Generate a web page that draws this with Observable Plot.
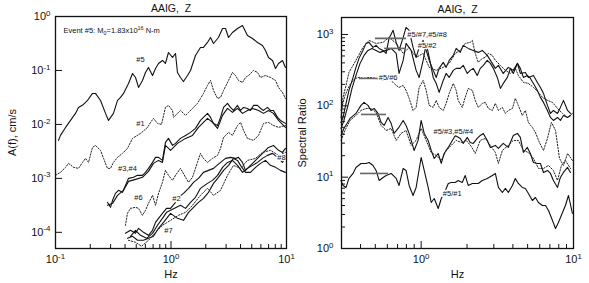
<!DOCTYPE html>
<html><head><meta charset="utf-8">
<script src="https://cdn.jsdelivr.net/npm/d3@7"></script>
<script src="https://cdn.jsdelivr.net/npm/@observablehq/plot@0.6"></script>
<style>
body{margin:0;background:#fff;}
#wrap{position:relative;width:589px;height:283px;background:#fff;}
#left{position:absolute;left:0;top:0;}
#right{position:absolute;left:295px;top:0;}
</style></head><body><div id="wrap"><div id="left"></div><div id="right"></div></div>
<script>
// ---------- LEFT PANEL: log10(Hz), log10(A cm/s) ----------
const L5 = [[-0.974,-2.296],[-0.957,-2.204],[-0.913,-2.056],[-0.870,-1.926],[-0.827,-1.796],[-0.801,-1.685],[-0.758,-1.630],[-0.723,-1.556],[-0.680,-1.426],[-0.654,-1.426],[-0.610,-1.556],[-0.567,-1.796],[-0.541,-1.926],[-0.498,-1.796],[-0.463,-1.556],[-0.437,-1.500],[-0.411,-1.426],[-0.368,-1.241],[-0.333,-1.056],[-0.307,-1.130],[-0.281,-1.315],[-0.247,-1.185],[-0.221,-1.037],[-0.195,-0.944],[-0.160,-1.093],[-0.134,-0.963],[-0.108,-0.870],[-0.074,-0.815],[-0.048,-0.870],[-0.022,-0.667],[0.013,-0.759],[0.039,-0.685],[0.056,-1.037],[0.082,-1.130],[0.108,-1.204],[0.143,-1.093],[0.169,-1.000],[0.212,-0.722],[0.255,-0.574],[0.281,-0.574],[0.316,-0.481],[0.342,-0.389],[0.368,-0.500],[0.411,-0.389],[0.446,-0.222],[0.472,-0.222],[0.498,-0.389],[0.532,-0.296],[0.576,-0.222],[0.619,-0.167],[0.662,-0.352],[0.706,-0.407],[0.749,-0.481],[0.792,-0.537],[0.818,-0.630],[0.844,-0.759],[0.879,-0.815],[0.905,-0.963],[0.931,-0.870],[0.965,-0.815],[0.991,-0.944]];
const L1 = [[-1.000,-2.944],[-0.957,-2.889],[-0.913,-2.796],[-0.887,-2.722],[-0.844,-2.796],[-0.801,-2.815],[-0.766,-2.704],[-0.740,-2.630],[-0.714,-2.704],[-0.680,-2.426],[-0.654,-2.389],[-0.610,-2.481],[-0.584,-2.630],[-0.550,-2.815],[-0.524,-2.815],[-0.498,-2.704],[-0.463,-2.611],[-0.420,-2.537],[-0.377,-2.444],[-0.333,-2.259],[-0.264,-2.167],[-0.203,-2.056],[-0.177,-1.963],[-0.152,-1.889],[-0.117,-1.981],[-0.082,-2.000],[-0.048,-1.685],[-0.022,-1.648],[0.013,-1.741],[0.022,-1.870],[0.056,-1.796],[0.082,-1.741],[0.126,-1.833],[0.152,-1.778],[0.186,-1.704],[0.229,-1.611],[0.255,-1.519],[0.281,-1.426],[0.316,-1.278],[0.342,-1.185],[0.368,-1.370],[0.403,-1.519],[0.429,-1.500],[0.455,-1.370],[0.498,-1.185],[0.532,-1.037],[0.558,-1.093],[0.584,-1.185],[0.619,-1.222],[0.645,-1.130],[0.671,-1.093],[0.714,-1.000],[0.749,-1.037],[0.775,-1.130],[0.818,-1.093],[0.861,-1.130],[0.905,-1.185],[0.931,-1.315],[0.965,-1.407],[0.991,-1.519]];
const L3 = [[-0.550,-3.444],[-0.524,-3.537],[-0.506,-3.407],[-0.481,-3.278],[-0.455,-3.222],[-0.420,-3.259],[-0.394,-3.130],[-0.368,-3.000],[-0.325,-2.981],[-0.290,-2.944],[-0.247,-2.944],[-0.221,-2.889],[-0.195,-2.815],[-0.160,-2.704],[-0.134,-2.611],[-0.108,-2.611],[-0.074,-2.667],[-0.048,-2.333],[-0.022,-2.259],[0.013,-2.389],[0.039,-2.352],[0.082,-2.259],[0.126,-2.204],[0.169,-2.148],[0.212,-2.074],[0.255,-1.926],[0.281,-1.870],[0.316,-1.796],[0.342,-1.870],[0.368,-1.981],[0.403,-2.019],[0.429,-1.870],[0.455,-1.685],[0.489,-1.611],[0.515,-1.685],[0.541,-1.741],[0.576,-1.648],[0.602,-1.741],[0.628,-1.685],[0.662,-1.704],[0.688,-1.741],[0.714,-1.648],[0.749,-1.648],[0.775,-1.704],[0.801,-1.741],[0.835,-1.685],[0.861,-1.741],[0.887,-1.741],[0.922,-1.870],[0.948,-1.926],[0.991,-1.981]];
const L4 = [[-0.550,-3.500],[-0.506,-3.463],[-0.463,-3.315],[-0.411,-3.222],[-0.368,-3.056],[-0.307,-3.019],[-0.247,-2.981],[-0.195,-2.870],[-0.152,-2.722],[-0.108,-2.667],[-0.074,-2.704],[-0.048,-2.389],[-0.004,-2.481],[0.056,-2.352],[0.126,-2.259],[0.186,-2.204],[0.238,-2.056],[0.281,-1.963],[0.316,-1.889],[0.359,-1.963],[0.403,-2.074],[0.446,-1.833],[0.489,-1.704],[0.532,-1.778],[0.576,-1.704],[0.619,-1.796],[0.662,-1.741],[0.706,-1.704],[0.758,-1.741],[0.801,-1.796],[0.844,-1.741],[0.887,-1.796],[0.931,-1.926],[0.991,-2.056]];
const L6 = [[-0.394,-3.870],[-0.377,-3.648],[-0.351,-3.556],[-0.307,-3.537],[-0.281,-3.556],[-0.247,-3.685],[-0.221,-3.593],[-0.195,-3.463],[-0.160,-3.315],[-0.134,-3.500],[-0.108,-3.278],[-0.074,-3.074],[-0.048,-2.852],[-0.022,-2.944],[0.013,-3.037],[0.039,-2.944],[0.082,-2.815],[0.126,-2.981],[0.152,-3.074],[0.186,-2.981],[0.229,-2.704],[0.255,-2.537],[0.281,-2.630],[0.316,-2.704],[0.359,-2.630],[0.403,-2.574],[0.429,-2.444],[0.455,-2.241],[0.498,-2.148],[0.532,-2.204],[0.576,-2.019],[0.602,-1.963],[0.628,-2.111],[0.662,-2.259],[0.714,-2.296],[0.758,-2.204],[0.801,-1.981],[0.844,-1.963],[0.887,-2.019],[0.931,-2.056],[0.991,-2.019]];
const L2 = [[-0.394,-4.019],[-0.351,-3.963],[-0.307,-4.019],[-0.281,-3.926],[-0.238,-4.000],[-0.195,-4.056],[-0.160,-3.963],[-0.134,-3.815],[-0.108,-3.741],[-0.074,-3.648],[-0.039,-3.556],[-0.004,-3.556],[0.039,-3.444],[0.065,-3.352],[0.108,-3.278],[0.152,-3.185],[0.195,-3.074],[0.238,-3.000],[0.281,-2.889],[0.325,-2.852],[0.368,-2.815],[0.429,-2.704],[0.472,-2.630],[0.515,-2.611],[0.558,-2.630],[0.584,-2.611],[0.619,-2.704],[0.645,-2.852],[0.688,-2.759],[0.732,-2.667],[0.775,-2.574],[0.818,-2.481],[0.844,-2.426],[0.887,-2.389],[0.931,-2.481],[0.965,-2.519],[0.991,-2.444]];
const L7 = [[-0.377,-4.111],[-0.333,-4.074],[-0.290,-4.148],[-0.238,-4.148],[-0.195,-4.111],[-0.152,-4.074],[-0.108,-3.926],[-0.065,-3.815],[-0.004,-3.648],[0.056,-3.741],[0.108,-3.778],[0.152,-3.630],[0.195,-3.537],[0.238,-3.444],[0.281,-3.370],[0.325,-3.259],[0.368,-3.093],[0.411,-2.981],[0.455,-2.852],[0.498,-2.759],[0.541,-2.630],[0.576,-2.667],[0.602,-2.759],[0.645,-2.889],[0.688,-2.889],[0.732,-2.796],[0.775,-2.722],[0.818,-2.667],[0.861,-2.759],[0.905,-2.796],[0.948,-2.852],[0.991,-2.889]];
const L8 = [[-0.351,-4.074],[-0.307,-3.963],[-0.264,-4.056],[-0.212,-4.111],[-0.160,-4.019],[-0.117,-3.870],[-0.074,-3.741],[-0.039,-3.630],[-0.004,-3.593],[0.082,-3.500],[0.126,-3.556],[0.169,-3.444],[0.212,-3.352],[0.255,-3.185],[0.316,-3.093],[0.359,-3.037],[0.403,-2.944],[0.446,-2.796],[0.489,-2.704],[0.532,-2.667],[0.576,-2.759],[0.619,-2.889],[0.662,-2.815],[0.706,-2.759],[0.749,-2.704],[0.792,-2.630],[0.835,-2.574],[0.879,-2.537],[0.922,-2.611],[0.965,-2.704],[0.991,-2.630]];
const Llow = [[-0.368,-4.148],[-0.307,-4.185],[-0.255,-4.259],[-0.195,-4.148],[-0.134,-4.000],[-0.074,-3.870],[-0.004,-3.778],[0.065,-3.685],[0.126,-3.630],[0.186,-3.500],[0.255,-3.315],[0.316,-3.185],[0.368,-3.315],[0.429,-3.222],[0.489,-2.944],[0.541,-2.759],[0.602,-2.815],[0.662,-2.667],[0.732,-2.630],[0.792,-2.519],[0.861,-2.481],[0.931,-2.574],[0.991,-2.519]];
const leftNames = ["#5","#1","#3","#4","#6","#2","#7","#8","#low"];
const leftSeriesPts = [L5, L1, L3, L4, L6, L2, L7, L8, Llow];
const leftDotted = ["#1","#6","#low"];
const leftLabelText = ["#5","#1","#3,#4","#6","#2","#7","#8"];
const leftLabelPos = [[-0.264,-0.796],[-0.264,-1.981],[-0.377,-2.815],[-0.281,-3.352],[0.048,-3.370],[-0.022,-3.963],[0.957,-2.611]];
const eventNote = "Event #5: M_{0}=1.83x10^{16} N-m";
const eventPos = [-0.931,-0.259];

// ---------- RIGHT PANEL: log10(Hz), log10(ratio) ----------
const R57 = [[-0.526,1.767],[-0.513,1.837],[-0.493,2.034],[-0.474,2.216],[-0.447,2.398],[-0.428,2.539],[-0.408,2.665],[-0.382,2.777],[-0.362,2.875],[-0.342,2.889],[-0.316,2.819],[-0.296,2.847],[-0.276,2.805],[-0.250,2.777],[-0.230,2.735],[-0.211,2.945],[-0.184,3.058],[-0.164,2.889],[-0.145,2.777],[-0.118,2.959],[-0.099,3.100],[-0.079,3.058],[-0.053,2.819],[-0.033,2.679],[-0.013,2.819],[0.013,2.917],[0.033,2.777],[0.053,2.637],[0.079,2.497],[0.099,2.398],[0.118,2.525],[0.145,2.609],[0.164,2.539],[0.184,2.637],[0.211,2.707],[0.230,2.805],[0.257,2.749],[0.276,2.847],[0.309,2.805],[0.342,2.777],[0.375,2.749],[0.401,2.777],[0.434,2.707],[0.467,2.595],[0.487,2.525],[0.507,2.567],[0.539,2.454],[0.572,2.539],[0.605,2.497],[0.632,2.595],[0.651,2.454],[0.684,2.468],[0.704,2.398],[0.737,2.426],[0.763,2.328],[0.783,2.258],[0.803,2.174],[0.829,2.006],[0.849,1.893],[0.868,1.935],[0.895,1.893],[0.914,1.978],[0.934,2.076],[0.961,1.935],[0.980,1.893]];
const R52 = [[-0.526,1.683],[-0.507,1.795],[-0.480,2.006],[-0.454,2.244],[-0.428,2.426],[-0.401,2.595],[-0.375,2.707],[-0.349,2.777],[-0.322,2.805],[-0.296,2.777],[-0.270,2.749],[-0.230,2.777],[-0.197,2.805],[-0.164,2.735],[-0.145,2.454],[-0.118,2.637],[-0.099,2.875],[-0.066,2.777],[-0.033,2.497],[-0.013,2.398],[0.013,2.637],[0.033,2.875],[0.053,2.679],[0.079,2.398],[0.099,2.314],[0.118,2.188],[0.145,2.356],[0.164,2.454],[0.184,2.398],[0.211,2.497],[0.230,2.525],[0.257,2.525],[0.276,2.567],[0.303,2.454],[0.322,2.497],[0.342,2.525],[0.368,2.426],[0.388,2.525],[0.408,2.567],[0.434,2.637],[0.454,2.595],[0.474,2.525],[0.500,2.398],[0.520,2.244],[0.539,2.314],[0.566,2.398],[0.586,2.525],[0.605,2.454],[0.632,2.595],[0.651,2.525],[0.671,2.398],[0.697,2.426],[0.717,2.384],[0.737,2.314],[0.763,2.216],[0.783,2.118],[0.803,2.048],[0.829,1.935],[0.849,1.837],[0.868,1.795],[0.895,1.837],[0.914,1.795],[0.934,1.865],[0.961,1.837],[0.980,1.865]];
const R58 = [[-0.526,1.837],[-0.513,2.118],[-0.493,2.286],[-0.474,2.468],[-0.428,2.637],[-0.382,2.819],[-0.342,2.917],[-0.296,2.875],[-0.250,2.889],[-0.211,2.959],[-0.164,2.875],[-0.118,2.735],[-0.079,2.819],[-0.033,2.679],[0.013,2.735],[0.053,2.539],[0.099,2.497],[0.145,2.539],[0.184,2.595],[0.224,2.735],[0.257,2.777],[0.289,2.875],[0.322,2.889],[0.336,2.917],[0.355,2.735],[0.375,2.609],[0.401,2.665],[0.421,2.679],[0.441,2.735],[0.467,2.707],[0.487,2.637],[0.520,2.567],[0.553,2.497],[0.586,2.454],[0.618,2.525],[0.638,2.426],[0.671,2.328],[0.704,2.314],[0.737,2.258],[0.770,2.188],[0.796,2.118],[0.829,2.076],[0.862,2.048],[0.895,1.963],[0.928,1.893],[0.961,1.837],[0.993,1.893]];
const R56 = [[-0.526,1.935],[-0.500,2.146],[-0.467,2.300],[-0.434,2.384],[-0.408,2.398],[-0.375,2.384],[-0.342,2.398],[-0.296,2.384],[-0.250,2.356],[-0.217,2.384],[-0.184,2.328],[-0.164,2.286],[-0.145,2.258],[-0.118,2.286],[-0.099,2.216],[-0.079,2.104],[-0.053,1.935],[-0.033,1.978],[-0.013,2.258],[0.013,2.356],[0.033,2.216],[0.053,2.006],[0.079,1.978],[0.099,2.076],[0.118,1.978],[0.145,1.935],[0.164,2.034],[0.184,2.174],[0.211,2.314],[0.230,2.216],[0.243,2.076],[0.270,1.978],[0.289,2.118],[0.309,2.244],[0.336,2.216],[0.355,2.076],[0.375,1.978],[0.401,2.034],[0.421,2.048],[0.441,1.963],[0.467,1.935],[0.487,2.034],[0.507,1.935],[0.533,1.978],[0.553,1.893],[0.572,1.935],[0.599,1.963],[0.618,2.104],[0.638,2.006],[0.664,1.865],[0.684,1.935],[0.704,1.767],[0.730,1.697],[0.750,1.627],[0.776,1.487],[0.803,1.374],[0.829,1.543],[0.855,1.767],[0.882,1.655],[0.908,1.262],[0.934,1.164],[0.961,1.332],[0.993,1.234]];
const R53 = [[-0.526,1.585],[-0.507,1.683],[-0.467,1.823],[-0.428,1.893],[-0.395,2.006],[-0.375,2.048],[-0.349,2.006],[-0.329,1.935],[-0.309,1.963],[-0.283,1.893],[-0.263,1.767],[-0.243,1.725],[-0.217,1.837],[-0.197,1.753],[-0.178,1.613],[-0.151,1.683],[-0.118,1.795],[-0.099,1.725],[-0.079,1.613],[-0.046,1.374],[-0.020,1.515],[0.000,1.795],[0.020,1.613],[0.046,1.515],[0.066,1.374],[0.086,1.262],[0.112,1.332],[0.132,1.192],[0.151,1.332],[0.178,1.417],[0.197,1.487],[0.224,1.585],[0.257,1.543],[0.276,1.473],[0.303,1.557],[0.322,1.487],[0.342,1.473],[0.368,1.543],[0.388,1.585],[0.408,1.613],[0.434,1.515],[0.454,1.417],[0.487,1.445],[0.507,1.403],[0.539,1.473],[0.572,1.417],[0.605,1.585],[0.632,1.613],[0.651,1.557],[0.671,1.346],[0.697,1.417],[0.717,1.332],[0.737,1.206],[0.763,1.192],[0.783,1.192],[0.803,1.066],[0.829,1.094],[0.849,1.052],[0.868,0.954],[0.895,0.856],[0.914,0.996],[0.934,1.066],[0.961,1.136],[0.980,1.066]];
const R54 = [[-0.526,1.515],[-0.500,1.655],[-0.467,1.795],[-0.428,1.865],[-0.395,1.935],[-0.362,1.963],[-0.329,1.963],[-0.296,1.907],[-0.263,1.725],[-0.230,1.655],[-0.197,1.683],[-0.164,1.515],[-0.132,1.613],[-0.099,1.655],[-0.066,1.445],[-0.033,1.515],[0.000,1.683],[0.033,1.515],[0.066,1.346],[0.099,1.304],[0.132,1.234],[0.164,1.374],[0.197,1.445],[0.230,1.515],[0.263,1.487],[0.296,1.515],[0.329,1.431],[0.355,1.332],[0.388,1.515],[0.421,1.543],[0.454,1.445],[0.487,1.346],[0.507,1.192],[0.533,1.374],[0.572,1.445],[0.605,1.515],[0.638,1.515],[0.671,1.374],[0.704,1.346],[0.737,1.262],[0.770,1.122],[0.803,1.122],[0.836,1.164],[0.868,1.094],[0.895,0.954],[0.921,1.164],[0.947,1.234],[0.980,1.122]];
const R51 = [[-0.526,0.954],[-0.513,0.884],[-0.493,0.856],[-0.474,0.982],[-0.447,1.052],[-0.428,1.136],[-0.395,1.192],[-0.362,1.192],[-0.342,1.206],[-0.316,1.164],[-0.296,1.094],[-0.276,0.954],[-0.250,0.996],[-0.230,1.024],[-0.197,1.052],[-0.164,0.982],[-0.145,0.884],[-0.118,1.122],[-0.099,1.094],[-0.079,0.884],[-0.053,0.743],[-0.033,0.856],[0.000,1.276],[0.020,1.094],[0.046,0.856],[0.066,0.645],[0.086,0.701],[0.112,0.561],[0.132,0.701],[0.151,0.771],[0.178,0.912],[0.197,0.926],[0.224,0.926],[0.243,0.954],[0.270,0.926],[0.289,1.024],[0.309,0.884],[0.336,0.912],[0.375,0.912],[0.401,0.954],[0.434,0.982],[0.467,1.024],[0.487,1.052],[0.507,0.856],[0.533,0.785],[0.553,0.842],[0.572,0.785],[0.599,0.884],[0.618,0.982],[0.638,0.912],[0.664,0.856],[0.684,0.842],[0.704,0.771],[0.730,0.673],[0.750,0.715],[0.770,0.645],[0.796,0.603],[0.816,0.603],[0.836,0.533],[0.862,0.393],[0.882,0.281],[0.901,0.365],[0.928,0.505],[0.947,0.603],[0.967,0.743],[0.993,0.491]];
const rightNames = ["#5/#7","#5/#2","#5/#8","#5/#6","#5/#3","#5/#4","#5/#1"];
const rightSeriesPts = [R57, R52, R58, R56, R53, R54, R51];
const rightDotted = ["#5/#8","#5/#6","#5/#4"];
// moment-ratio reference levels: [log10 f start, log10 f end, log10 ratio]
const refLevels = [[-0.303,-0.099,2.945],[-0.243,-0.099,2.805],[-0.408,-0.217,2.384],[-0.395,-0.230,1.879],[-0.401,-0.217,1.052]];
const rightLabelText = ["#5/#7,#5/#8","#5/#2","#5/#6","#5/#3,#5/#4","#5/#1"];
const rightLabelPos = [[0.039,3.001],[0.039,2.847],[-0.217,2.398],[0.211,1.641],[0.204,0.771]];

const titleText = "AAIG,  Z";
const xLabel = "Hz";
const leftYLabel = "A(f), cm/s";
const rightYLabel = "Spectral Ratio";

// ---------- helpers ----------
const FONT = '"Liberation Sans", Arial, Helvetica, sans-serif';
const rowsOf = (names, ptsList) => names.flatMap((n, i) => ptsList[i].map(([lf, lv]) => ({series: n, f: 10 ** lf, v: 10 ** lv})));
const pow10 = d => `10^{${Math.round(Math.log10(d))}}`;
const decadeMinor = (lo, hi) => { const out = []; for (let e = lo; e < hi; e++) for (let k = 2; k <= 9; k++) out.push(k * 10 ** e); return out; };

function richText(root) {
  const ns = "http://www.w3.org/2000/svg";
  root.querySelectorAll("text").forEach(t => {
    const s = t.textContent;
    if (!/[\^_]\{/.test(s)) return;
    while (t.firstChild) t.removeChild(t.firstChild);
    const add = (str, attrs) => { const sp = document.createElementNS(ns, "tspan"); for (const k in attrs) sp.setAttribute(k, attrs[k]); sp.textContent = str; t.appendChild(sp); };
    const re = /([\^_])\{([^}]*)\}/g; let last = 0, m, pending = 0;
    while ((m = re.exec(s))) {
      if (m.index > last) { add(s.slice(last, m.index), pending ? {dy: pending + "em"} : {}); pending = 0; }
      const shift = m[1] === "^" ? -0.4 : 0.22;
      add(m[2], {"font-size": "72%", dy: (shift / 0.72).toFixed(3) + "em"});
      pending = -shift;
      last = re.lastIndex;
    }
    if (last < s.length) add(s.slice(last), pending ? {dy: pending + "em"} : {});
  });
}

function panel({width, mL, mR, mT, mB, xDomain, yDomain, names, pts, dotted, xMaj, xMin, yMaj, yMin, yPad, yLabel, yLabelDx, labels, labelPos, extra}) {
  const rows = rowsOf(names, pts);
  const solid = rows.filter(d => !dotted.includes(d.series));
  const dots = rows.filter(d => dotted.includes(d.series));
  const marks = [
    Plot.line(solid, {x: "f", y: "v", z: "series", stroke: "#111", strokeWidth: 1.1}),
    Plot.line(dots, {x: "f", y: "v", z: "series", stroke: "#222", strokeWidth: 1, strokeDasharray: "1.4,1.6"}),
    ...extra,
    Plot.text(labels, {x: (d, i) => 10 ** labelPos[i][0], y: (d, i) => 10 ** labelPos[i][1], text: d => d, fontSize: 7.5, fill: "#111", stroke: "white", strokeWidth: 2.5}),
    Plot.axisX(xMaj, {anchor: "bottom", tickSize: -7, tickFormat: () => "", label: null, strokeWidth: 1}),
    Plot.axisX(xMin, {anchor: "bottom", tickSize: -4, tickFormat: () => "", label: null, strokeWidth: 1}),
    Plot.axisX(xMaj, {anchor: "bottom", tickSize: 0, tickPadding: 7, tickFormat: pow10, label: null, fontSize: 11}),
    Plot.axisY(yMaj, {anchor: "left", tickSize: -7, tickFormat: () => "", label: null}),
    Plot.axisY(yMin, {anchor: "left", tickSize: -4, tickFormat: () => "", label: null}),
    Plot.axisY(yMaj, {anchor: "left", tickSize: 0, tickPadding: yPad, tickFormat: pow10, label: null, fontSize: 11}),
    Plot.frame({stroke: "#111", strokeWidth: 1.3}),
    Plot.text([titleText], {frameAnchor: "top", dy: -5, lineAnchor: "bottom", fontSize: 10.5}),
    Plot.text([xLabel], {frameAnchor: "bottom", dy: 29, lineAnchor: "bottom", fontSize: 11}),
    Plot.text([yLabel], {frameAnchor: "left", dx: yLabelDx, rotate: -90, textAnchor: "middle", lineAnchor: "middle", fontSize: 11})
  ];
  const svg = Plot.plot({
    width, height: 283, marginLeft: mL, marginRight: mR, marginTop: mT, marginBottom: mB,
    x: {type: "log", domain: xDomain},
    y: {type: "log", domain: yDomain},
    style: {fontFamily: FONT, background: "white", color: "#111", overflow: "visible"},
    marks
  });
  richText(svg);
  return svg;
}

const leftSvg = panel({
  width: 295, mL: 55, mR: 9, mT: 16, mB: 35,
  xDomain: [0.1, 10], yDomain: [10 ** -4.3, 1],
  names: leftNames, pts: leftSeriesPts, dotted: leftDotted,
  xMaj: [0.1, 1, 10], xMin: decadeMinor(-1, 1),
  yMaj: [1e-4, 1e-3, 1e-2, 1e-1, 1], yMin: [], yPad: 5,
  yLabel: leftYLabel, yLabelDx: -43,
  labels: leftLabelText, labelPos: leftLabelPos,
  extra: [Plot.text([eventNote], {x: 10 ** eventPos[0], y: 10 ** eventPos[1], textAnchor: "start", fontSize: 7.5, fill: "#111"})]
});
document.getElementById("left").appendChild(leftSvg);

const rightSvg = panel({
  width: 294, mL: 46, mR: 16, mT: 17, mB: 35,
  xDomain: [0.3, 10], yDomain: [1, 10 ** 3.238],
  names: rightNames, pts: rightSeriesPts, dotted: rightDotted,
  xMaj: [1, 10], xMin: decadeMinor(-1, 1).filter(d => d > 0.3),
  yMaj: [1, 10, 100, 1000], yMin: decadeMinor(0, 3), yPad: 8,
  yLabel: rightYLabel, yLabelDx: -39,
  labels: rightLabelText, labelPos: rightLabelPos,
  extra: [Plot.link(refLevels, {x1: d => 10 ** d[0], x2: d => 10 ** d[1], y1: d => 10 ** d[2], y2: d => 10 ** d[2], stroke: "#666", strokeWidth: 1.6})]
});
document.getElementById("right").appendChild(rightSvg);
</script>
</body></html>
